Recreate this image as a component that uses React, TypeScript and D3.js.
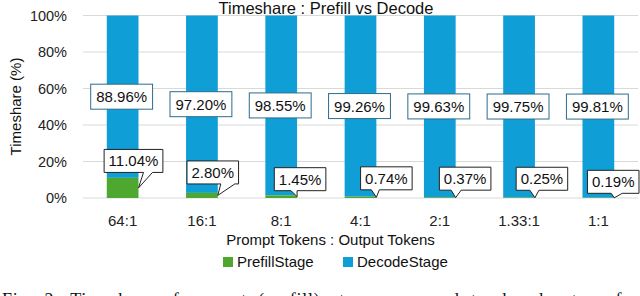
import React, { useRef, useEffect } from 'react';
import * as d3 from 'd3';

// chart values
const categories = ['64:1', '16:1', '8:1', '4:1', '2:1', '1.33:1', '1:1'];
const prefillStage = [11.04, 2.8, 1.45, 0.74, 0.37, 0.25, 0.19];
const decodeStage = [88.96, 97.2, 98.55, 99.26, 99.63, 99.75, 99.81];
const yTicks = [0, 20, 40, 60, 80, 100];

// hand-moved callout boxes for the prefill labels (offset of box centre from the pointer tip, wedge base from box centre)
const calloutLayout = [
  { dx: -5, dy: -27, w0: 10, w1: 19 },
  { dx: -5, dy: -23, w0: 8, w1: 22 },
  { dx: 3, dy: -17.5, w0: -9, w1: -3 },
  { dx: 10, dy: -19, w0: -15, w1: -7 },
  { dx: 9.5, dy: -19, w0: -14, w1: -4 },
  { dx: 7, dy: -19, w0: -12, w1: -3 },
  { dx: -1, dy: -16, w0: -2, w1: 9 },
];

const FONT = '"Liberation Sans", Arial, sans-serif';
const GREEN = '#4EA72E';
const BLUE = '#0F9ED5';

function TimeshareChart() {
  const svgRef = useRef<SVGSVGElement>(null);

  useEffect(() => {
    const svg = d3.select(svgRef.current);
    svg.selectAll('*').remove();

    const width = 640;
    const height = 296;

    const x = d3.scaleBand().domain(categories).range([83, 638]).paddingInner(0.6).paddingOuter(0.3);
    const y = d3.scaleLinear().domain([0, 100]).range([198, 15.5]);

    svg.attr('width', width).attr('height', height);

    // gridlines
    svg.append('g')
      .selectAll('line')
      .data(yTicks)
      .join('line')
      .attr('x1', 83)
      .attr('x2', 638)
      .attr('y1', d => y(d))
      .attr('y2', d => y(d))
      .attr('stroke', '#d9d9d9')
      .attr('stroke-width', 1);

    // y tick labels
    svg.append('g')
      .selectAll('text')
      .data(yTicks)
      .join('text')
      .attr('x', 67)
      .attr('y', d => y(d) + 5)
      .attr('text-anchor', 'end')
      .attr('font-family', FONT)
      .attr('font-size', 14.5)
      .attr('fill', '#222')
      .text(d => `${d}%`);

    // stacked bars
    const rows = categories.map((c, i) => ({ c, p: prefillStage[i], d: decodeStage[i] }));
    const bars = svg.append('g');
    bars.selectAll('.bar-decode')
      .data(rows)
      .join('rect')
      .attr('class', 'bar-decode')
      .attr('x', r => x(r.c)!)
      .attr('width', x.bandwidth())
      .attr('y', r => y(r.p + r.d))
      .attr('height', r => y(r.p) - y(r.p + r.d))
      .attr('fill', BLUE);
    bars.selectAll('.bar-prefill')
      .data(rows)
      .join('rect')
      .attr('class', 'bar-prefill')
      .attr('x', r => x(r.c)!)
      .attr('width', x.bandwidth())
      .attr('y', r => y(r.p))
      .attr('height', r => y(0) - y(r.p))
      .attr('fill', GREEN);

    // decode labels: boxes centred on the segment
    const decodeLabels = svg.append('g');
    rows.forEach(r => {
      const cx = x(r.c)! + x.bandwidth() / 2 - 1;
      const cy = y(r.p + r.d / 2);
      const g = decodeLabels.append('g');
      const t = g.append('text')
        .attr('x', cx)
        .attr('y', cy + 5.5)
        .attr('text-anchor', 'middle')
        .attr('font-family', FONT)
        .attr('font-size', 15)
        .attr('fill', '#111')
        .text(`${r.d.toFixed(2)}%`);
      const bb = (t.node() as SVGTextElement).getBBox();
      g.insert('rect', 'text')
        .attr('x', cx - bb.width / 2 - 5.5)
        .attr('y', cy - 12.5)
        .attr('width', bb.width + 11)
        .attr('height', 25)
        .attr('fill', '#fff')
        .attr('stroke', '#2c6c8c')
        .attr('stroke-width', 1);
    });

    // prefill labels: callouts pointing at the green segment
    const prefillLabels = svg.append('g');
    rows.forEach((r, i) => {
      const lay = calloutLayout[i];
      const tipX = x(r.c)! + x.bandwidth();
      const tipY = y(r.p / 2);
      const cx = tipX + lay.dx;
      const cy = tipY + lay.dy;
      const g = prefillLabels.append('g');
      const t = g.append('text')
        .attr('x', cx)
        .attr('y', cy + 5.5)
        .attr('text-anchor', 'middle')
        .attr('font-family', FONT)
        .attr('font-size', 15)
        .attr('fill', '#111')
        .text(`${r.p.toFixed(2)}%`);
      const bb = (t.node() as SVGTextElement).getBBox();
      const hw = bb.width / 2 + 4.5;
      const hh = 11.5;
      const path = d3.path();
      path.moveTo(cx - hw, cy - hh);
      path.lineTo(cx + hw, cy - hh);
      path.lineTo(cx + hw, cy + hh);
      path.lineTo(cx + lay.w1, cy + hh);
      path.lineTo(tipX, tipY);
      path.lineTo(cx + lay.w0, cy + hh);
      path.lineTo(cx - hw, cy + hh);
      path.closePath();
      g.insert('path', 'text')
        .attr('d', path.toString())
        .attr('fill', '#fff')
        .attr('stroke', '#222')
        .attr('stroke-width', 1)
        .attr('stroke-linejoin', 'miter');
    });

    // x tick labels
    svg.append('g')
      .selectAll('text')
      .data(categories)
      .join('text')
      .attr('x', d => x(d)! + x.bandwidth() / 2)
      .attr('y', 225.5)
      .attr('text-anchor', 'middle')
      .attr('font-family', FONT)
      .attr('font-size', 15)
      .attr('fill', '#222')
      .text(d => d);

    // titles
    svg.append('text')
      .attr('x', 326)
      .attr('y', 13.5)
      .attr('text-anchor', 'middle')
      .attr('font-family', FONT)
      .attr('font-size', 16.5)
      .attr('fill', '#111')
      .text('Timeshare : Prefill vs Decode');
    svg.append('text')
      .attr('x', 330.5)
      .attr('y', 244.5)
      .attr('text-anchor', 'middle')
      .attr('font-family', FONT)
      .attr('font-size', 15)
      .attr('fill', '#111')
      .text('Prompt Tokens : Output Tokens');
    svg.append('text')
      .attr('transform', 'translate(21,106.5) rotate(-90)')
      .attr('text-anchor', 'middle')
      .attr('font-family', FONT)
      .attr('font-size', 15)
      .attr('fill', '#111')
      .text('Timeshare (%)');

    // legend
    const legend = [
      { name: 'PrefillStage', color: GREEN, x: 223 },
      { name: 'DecodeStage', color: BLUE, x: 343 },
    ];
    const lg = svg.append('g');
    legend.forEach(l => {
      lg.append('rect').attr('x', l.x).attr('y', 257).attr('width', 10).attr('height', 10).attr('fill', l.color);
      lg.append('text')
        .attr('x', l.x + 14)
        .attr('y', 267)
        .attr('font-family', FONT)
        .attr('font-size', 15)
        .attr('fill', '#111')
        .text(l.name);
    });

    // cut-off caption underneath
    svg.append('text')
      .attr('x', 2)
      .attr('y', 306)
      .attr('font-family', '"Liberation Serif", "Times New Roman", serif')
      .attr('font-size', 18)
      .attr('fill', '#111')
      .attr('textLength', 636)
      .attr('lengthAdjust', 'spacing')
      .attr('word-spacing', 6)
      .text('Fig. 2.  Timeshare of prompt (prefill) stage compared to decode stage for');
  }, []);

  return <svg ref={svgRef} style={{ display: 'block' }}></svg>;
}

export default function App() {
  return (
    <div style={{ position: 'absolute', left: 0, top: 0, width: 640, height: 296, overflow: 'hidden', background: '#fff' }}>
      <TimeshareChart />
    </div>
  );
}
